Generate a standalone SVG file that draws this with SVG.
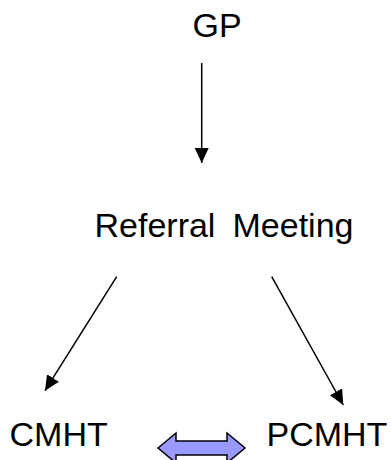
<svg xmlns="http://www.w3.org/2000/svg" width="391" height="460" viewBox="0 0 391 460">
  <style>
    .lbl { font-family: "Liberation Sans", Arial, sans-serif; font-size: 34px; fill: #000; }
    .conn { stroke: #000; stroke-width: 1.5; fill: none; marker-end: url(#ah); }
  </style>
  <defs>
    <marker id="ah" markerUnits="userSpaceOnUse" markerWidth="16" markerHeight="16" viewBox="0 0 16 16" refX="15" refY="8" orient="auto">
      <path d="M0,1 L15,8 L0,15 Z" fill="#000"/>
    </marker>
  </defs>
  <rect width="391" height="460" fill="#fff"/>
  <g id="node-gp"><text class="lbl" x="192.5" y="37">GP</text></g>
  <g id="node-referral"><text class="lbl" y="236.5"><tspan x="94.5">Referral </tspan><tspan x="232.5">Meeting</tspan></text></g>
  <g id="node-cmht"><text class="lbl" x="9.5" y="446">CMHT</text></g>
  <g id="node-pcmht"><text class="lbl" x="266.5" y="446">PCMHT</text></g>
  <g id="connectors">
    <line class="conn" x1="201.7" y1="63" x2="201.7" y2="163"/>
    <line class="conn" x1="116.7" y1="276.7" x2="45" y2="390.7"/>
    <line class="conn" x1="271.7" y1="276.7" x2="343.3" y2="405"/>
    <polygon points="158,448 176,433 176,441 227,441 227,433 245,448 227,463 227,455 176,455 176,463" fill="#9999ff" stroke="#000" stroke-width="1.5" stroke-linejoin="miter"/>
  </g>
</svg>
